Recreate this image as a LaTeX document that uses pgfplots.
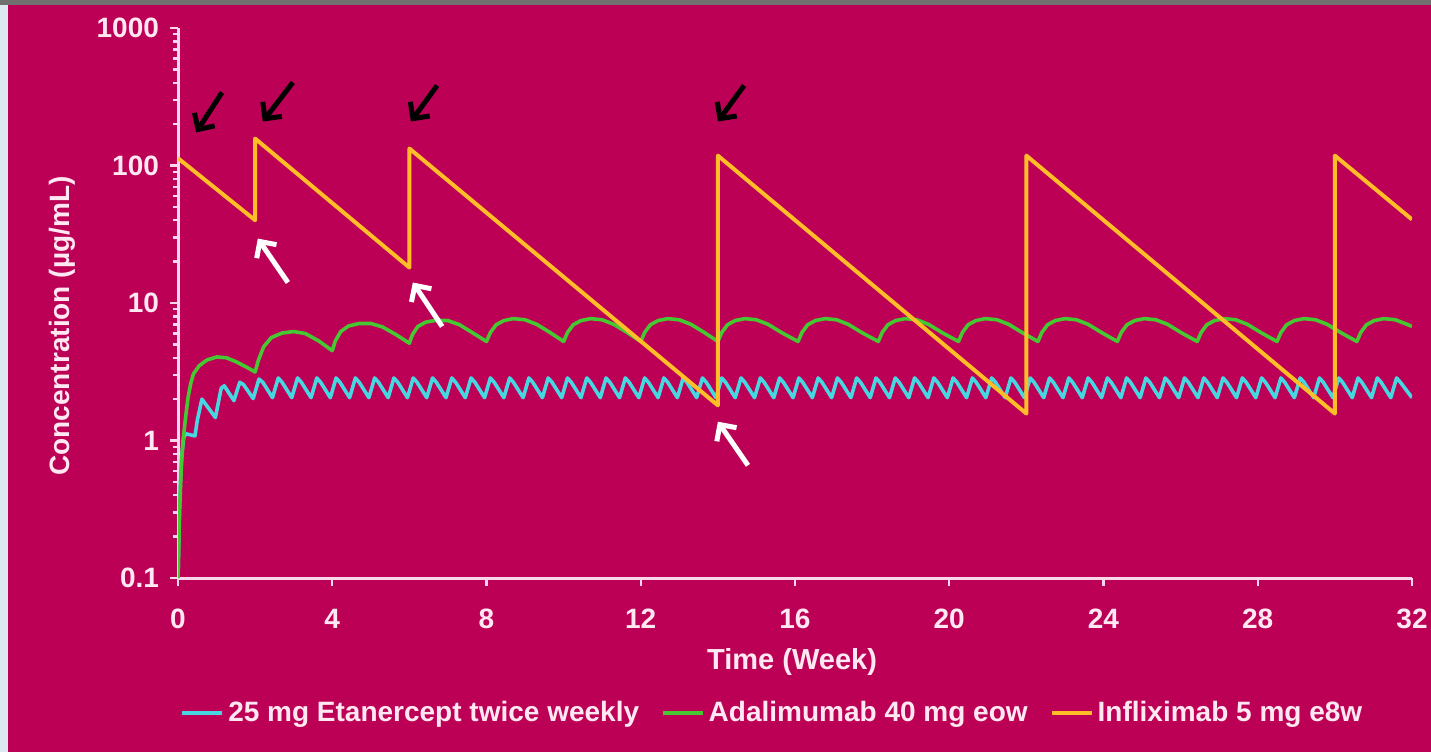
\documentclass[border=0pt]{standalone}
\usepackage{pgfplots}
\pgfplotsset{compat=1.18}
\usepackage{fontspec}
\setmainfont{Liberation Sans}
\usetikzlibrary{arrows.meta}
\definecolor{bg}{RGB}{188,0,85}
\definecolor{stripgray}{RGB}{112,112,112}
\definecolor{stripblue}{RGB}{220,232,242}
\definecolor{axiscol}{RGB}{250,215,235}
\definecolor{labcol}{RGB}{255,232,242}
\definecolor{etan}{RGB}{70,215,225}
\definecolor{adal}{RGB}{70,200,50}
\definecolor{infl}{RGB}{255,190,40}
\begin{document}
\begin{tikzpicture}
\fill[bg] (0,0) rectangle (715.5pt,376pt);
\fill[stripgray] (0,373.5pt) rectangle (715.5pt,376pt);
\fill[stripblue] (0,0) rectangle (4pt,373.5pt);
\begin{axis}[
  at={(89pt,87pt)}, anchor=south west,
  scale only axis, width=617pt, height=275pt,
  xmin=0, xmax=32, ymin=0.1, ymax=1000, ymode=log,
  axis x line*=bottom, axis y line*=left,
  axis line style={axiscol, line width=1.5pt},
  every tick/.style={axiscol, line width=1.2pt},
  tick align=outside,
  major tick length=4pt, minor tick length=2.5pt,
  xtick={0,4,...,32},
  ytick={0.1,1,10,100,1000}, yticklabels={0.1,1,10,100,1000},
  ticklabel style={font=\bfseries\fontsize{14}{16}\selectfont, text=labcol},
  xticklabel style={yshift=-8pt},
  yticklabel style={xshift=-2pt},
  /pgf/number format/assume math mode=true,
  xlabel={Time (Week)}, ylabel={Concentration (µg/mL)},
  every axis x label/.style={at={(rel axis cs:0.4976,-0.153)}, anchor=center,
    font=\bfseries\fontsize{14.5}{16}\selectfont, text=labcol},
  every axis y label/.style={at={(rel axis cs:-0.094,0.458)}, anchor=center, rotate=90,
    font=\bfseries\fontsize{14}{16}\selectfont, text=labcol},
  legend columns=3,
  legend style={at={(-0.003,-0.2455)}, anchor=west, draw=none, fill=none, text=labcol,
    font=\bfseries\fontsize{14}{16}\selectfont,
    /tikz/every even column/.append style={column sep=9pt}},
  legend image code/.code={\draw[#1] (0pt,0pt) -- (20pt,0pt);},
]
\addplot[etan, line width=1.8pt, line join=round] coordinates {
(0,0.1)(0.04,0.35)(0.09,0.75)(0.15,1.05)(0.2,1.12)(0.44,1.08)(0.5,1.4)(0.62,2.0)(0.97,1.47)(1.12,2.4)(1.2,2.5)(1.45,1.95)(1.6,2.65)(1.7,2.55)(1.95,2.02)(2.1,2.8)(2.2,2.65)
(2.45,2.05)(2.6,2.85)(2.7,2.65)(2.95,2.05)(3.1,2.85)(3.2,2.65)
(3.45,2.05)(3.6,2.85)(3.7,2.65)(3.95,2.05)(4.1,2.85)(4.2,2.65)
(4.45,2.05)(4.6,2.85)(4.7,2.65)(4.95,2.05)(5.1,2.85)(5.2,2.65)
(5.45,2.05)(5.6,2.85)(5.7,2.65)(5.95,2.05)(6.1,2.85)(6.2,2.65)
(6.45,2.05)(6.6,2.85)(6.7,2.65)(6.95,2.05)(7.1,2.85)(7.2,2.65)
(7.45,2.05)(7.6,2.85)(7.7,2.65)(7.95,2.05)(8.1,2.85)(8.2,2.65)
(8.45,2.05)(8.6,2.85)(8.7,2.65)(8.95,2.05)(9.1,2.85)(9.2,2.65)
(9.45,2.05)(9.6,2.85)(9.7,2.65)(9.95,2.05)(10.1,2.85)(10.2,2.65)
(10.45,2.05)(10.6,2.85)(10.7,2.65)(10.95,2.05)(11.1,2.85)(11.2,2.65)
(11.45,2.05)(11.6,2.85)(11.7,2.65)(11.95,2.05)(12.1,2.85)(12.2,2.65)
(12.45,2.05)(12.6,2.85)(12.7,2.65)(12.95,2.05)(13.1,2.85)(13.2,2.65)
(13.45,2.05)(13.6,2.85)(13.7,2.65)(13.95,2.05)(14.1,2.85)(14.2,2.65)
(14.45,2.05)(14.6,2.85)(14.7,2.65)(14.95,2.05)(15.1,2.85)(15.2,2.65)
(15.45,2.05)(15.6,2.85)(15.7,2.65)(15.95,2.05)(16.1,2.85)(16.2,2.65)
(16.45,2.05)(16.6,2.85)(16.7,2.65)(16.95,2.05)(17.1,2.85)(17.2,2.65)
(17.45,2.05)(17.6,2.85)(17.7,2.65)(17.95,2.05)(18.1,2.85)(18.2,2.65)
(18.45,2.05)(18.6,2.85)(18.7,2.65)(18.95,2.05)(19.1,2.85)(19.2,2.65)
(19.45,2.05)(19.6,2.85)(19.7,2.65)(19.95,2.05)(20.1,2.85)(20.2,2.65)
(20.45,2.05)(20.6,2.85)(20.7,2.65)(20.95,2.05)(21.1,2.85)(21.2,2.65)
(21.45,2.05)(21.6,2.85)(21.7,2.65)(21.95,2.05)(22.1,2.85)(22.2,2.65)
(22.45,2.05)(22.6,2.85)(22.7,2.65)(22.95,2.05)(23.1,2.85)(23.2,2.65)
(23.45,2.05)(23.6,2.85)(23.7,2.65)(23.95,2.05)(24.1,2.85)(24.2,2.65)
(24.45,2.05)(24.6,2.85)(24.7,2.65)(24.95,2.05)(25.1,2.85)(25.2,2.65)
(25.45,2.05)(25.6,2.85)(25.7,2.65)(25.95,2.05)(26.1,2.85)(26.2,2.65)
(26.45,2.05)(26.6,2.85)(26.7,2.65)(26.95,2.05)(27.1,2.85)(27.2,2.65)
(27.45,2.05)(27.6,2.85)(27.7,2.65)(27.95,2.05)(28.1,2.85)(28.2,2.65)
(28.45,2.05)(28.6,2.85)(28.7,2.65)(28.95,2.05)(29.1,2.85)(29.2,2.65)
(29.45,2.05)(29.6,2.85)(29.7,2.65)(29.95,2.05)(30.1,2.85)(30.2,2.65)
(30.45,2.05)(30.6,2.85)(30.7,2.65)(30.95,2.05)(31.1,2.85)(31.2,2.65)
(31.45,2.05)(31.6,2.85)(31.7,2.65)(32,2.05)
};
\addlegendentry{25 mg Etanercept twice weekly}
\addplot[adal, line width=1.8pt, line join=round] coordinates {
(0,0.1)(0.04,0.3)(0.08,0.6)(0.13,1.0)(0.2,1.5)(0.26,2.05)(0.33,2.6)(0.4,3.05)(0.55,3.5)(0.75,3.85)(1.0,4.05)(1.25,4.0)(1.5,3.75)(1.75,3.45)(2.0,3.15)
(2.08,3.8)(2.22,4.8)(2.42,5.6)(2.7,6.05)(3.0,6.2)(3.3,6.0)(3.65,5.3)(4.0,4.5)
(4.08,5.3)(4.22,6.2)(4.42,6.8)(4.7,7.1)(5.0,7.1)(5.3,6.7)(5.65,5.9)(6.0,5.1)
(6.08,5.9)(6.22,6.75)(6.42,7.25)(6.7,7.5)(7.0,7.45)(7.3,6.95)(7.65,6.05)
(8,5.25)(8.1,6.1)(8.25,6.95)(8.45,7.45)(8.7,7.7)(9,7.55)(9.3,7.0)(9.65,6.1)
(10,5.25)(10.1,6.1)(10.25,6.95)(10.45,7.45)(10.7,7.7)(11,7.55)(11.3,7.0)(11.65,6.1)
(12,5.25)(12.1,6.1)(12.25,6.95)(12.45,7.45)(12.7,7.7)(13,7.55)(13.3,7.0)(13.65,6.1)
(14,5.25)(14.1,6.1)(14.25,6.95)(14.45,7.45)(14.7,7.7)(15,7.55)(15.3,7.0)(15.65,6.1)
(16.08,5.25)(16.18,6.1)(16.33,6.95)(16.53,7.45)(16.78,7.7)(17.08,7.55)(17.38,7.0)(17.73,6.1)
(18.16,5.25)(18.26,6.1)(18.41,6.95)(18.61,7.45)(18.86,7.7)(19.16,7.55)(19.46,7.0)(19.81,6.1)
(20.24,5.25)(20.34,6.1)(20.49,6.95)(20.69,7.45)(20.94,7.7)(21.24,7.55)(21.54,7.0)(21.89,6.1)
(22.3,5.25)(22.4,6.1)(22.55,6.95)(22.75,7.45)(23,7.7)(23.3,7.55)(23.6,7.0)(23.95,6.1)
(24.36,5.25)(24.46,6.1)(24.61,6.95)(24.81,7.45)(25.06,7.7)(25.36,7.55)(25.66,7.0)(26.01,6.1)
(26.43,5.25)(26.53,6.1)(26.68,6.95)(26.88,7.45)(27.13,7.7)(27.43,7.55)(27.73,7.0)(28.08,6.1)
(28.5,5.25)(28.6,6.1)(28.75,6.95)(28.95,7.45)(29.2,7.7)(29.5,7.55)(29.8,7.0)(30.15,6.1)
(30.57,5.25)(30.67,6.1)(30.82,6.95)(31.02,7.45)(31.27,7.7)(31.57,7.55)(31.87,7.0)(32,6.75)
};
\addlegendentry{Adalimumab 40 mg eow}
\addplot[infl, line width=2pt, line join=round] coordinates {
(0,113)(2,40)(2,157)(6,18.1)(6,133)(14,1.8)(14,118)(22,1.57)(22,118)(30,1.57)(30,118)(32,40.5)
};
\addlegendentry{Infliximab 5 mg e8w}
\draw[black, line width=2.5pt, -{Straight Barb[length=6pt,width=12pt]}] (axis cs:1.14,340) -- (axis cs:0.47,174);
\draw[black, line width=2.5pt, -{Straight Barb[length=6pt,width=12pt]}] (axis cs:2.98,402) -- (axis cs:2.2,209);
\draw[black, line width=2.5pt, -{Straight Barb[length=6pt,width=12pt]}] (axis cs:6.72,382) -- (axis cs:6.04,209);
\draw[black, line width=2.5pt, -{Straight Barb[length=6pt,width=12pt]}] (axis cs:14.68,382) -- (axis cs:14.0,209);
\draw[white, line width=2.5pt, -{Straight Barb[length=6pt,width=12pt]}] (axis cs:2.85,14.1) -- (axis cs:2.07,29.4);
\draw[white, line width=2.5pt, -{Straight Barb[length=6pt,width=12pt]}] (axis cs:6.85,6.75) -- (axis cs:6.09,14.1);
\draw[white, line width=2.5pt, -{Straight Barb[length=6pt,width=12pt]}] (axis cs:14.78,0.66) -- (axis cs:14.0,1.37);
\end{axis}
\pgfresetboundingbox
\useasboundingbox (0,0) rectangle (715.5pt,376pt);
\end{tikzpicture}
\end{document}
